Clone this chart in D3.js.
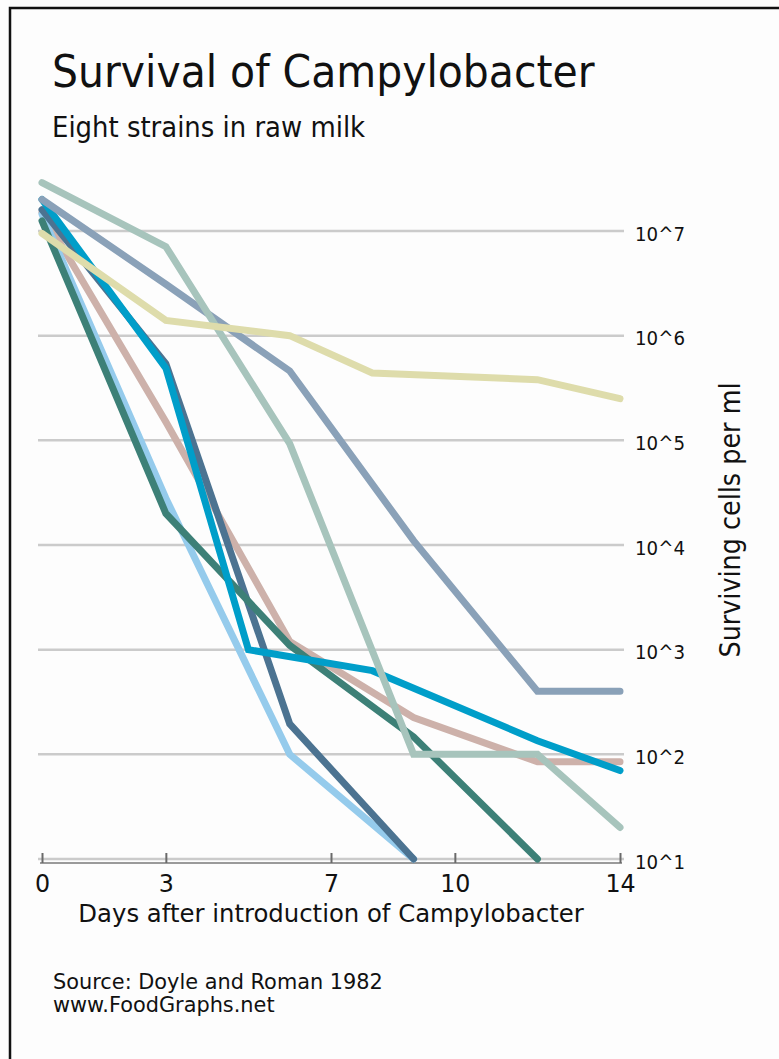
<!DOCTYPE html>
<html>
<head>
<meta charset="utf-8">
<script src="https://cdn.jsdelivr.net/npm/d3@7/dist/d3.min.js"></script>
<style>
    body { margin: 0; background: #fdfdfd; }
    svg { display: block; }
    text { font-family: "DejaVu Sans", Verdana, sans-serif; fill: #111; }
    .grid line { stroke: #cbcbcb; stroke-width: 2.5; }
    .strain { fill: none; stroke-width: 7; stroke-linecap: round; stroke-linejoin: miter; }
</style>
</head>
<body>
<div id="chart"></div>
<script>
// Surviving cells per ml, [day, cells]
var strainRose = [[0, 1.5e7], [3, 1.5e5], [6, 1200], [9, 225], [12, 85], [14, 85]];
var strainLightBlue = [[0, 1.45e7], [3, 2.8e4], [6, 100], [9, 10]];
var strainDarkSlate = [[0, 1.6e7], [3, 5.4e5], [6, 195], [9, 10]];
var strainTeal = [[0, 1.25e7], [3, 2.0e4], [6, 1100], [9, 147], [12, 10]];
var strainBlue = [[0, 2.0e7], [3, 4.9e5], [5, 1000], [8, 630], [12, 135], [14, 70]];
var strainSlate = [[0, 2.0e7], [3, 3.1e6], [6, 4.6e5], [9, 1.1e4], [12, 400], [14, 400]];
var strainSage = [[0, 2.9e7], [3, 7.1e6], [6, 9.3e4], [9, 100], [12, 100], [14, 20]];
var strainKhaki = [[0, 9.5e6], [3, 1.4e6], [6, 1.0e6], [8, 4.4e5], [12, 3.8e5], [14, 2.5e5]];

var dayTicks = [0, 3, 7, 10, 14];
var cellTicks = [10, 100, 1e3, 1e4, 1e5, 1e6, 1e7];
var cellTickLabels = ['10^1', '10^2', '10^3', '10^4', '10^5', '10^6', '10^7'];

var strains = [
    { data: strainRose, color: '#cdb1aa' },
    { data: strainLightBlue, color: '#95cbec' },
    { data: strainDarkSlate, color: '#4c7391' },
    { data: strainTeal, color: '#3d8077' },
    { data: strainBlue, color: '#009ec9' },
    { data: strainSlate, color: '#8aa1b8' },
    { data: strainSage, color: '#a7c4bc' },
    { data: strainKhaki, color: '#dedcab' }
];

var width = 779, height = 1059;

// squeeze text a little, the original face is narrower than DejaVu
function squeeze(sel, k) {
    k = k || 0.91;
    sel.each(function () {
        var w = this.getComputedTextLength();
        d3.select(this).attr('textLength', w * k).attr('lengthAdjust', 'spacingAndGlyphs');
    });
}

var svg = d3.select('#chart').append('svg')
    .attr('width', width)
    .attr('height', height);

// frame
svg.append('path')
    .attr('d', 'M10,' + (height + 5) + 'V8H' + (width + 5))
    .attr('fill', 'none')
    .attr('stroke', '#111')
    .attr('stroke-width', 2.5);

var x = d3.scaleLinear().domain([0, 14]).range([42, 620]);
var y = d3.scaleLog().domain([10, 1e7]).range([859, 231]);

// grid
svg.append('g')
    .attr('class', 'grid')
    .selectAll('line')
    .data(cellTicks)
    .enter()
    .append('line')
    .attr('x1', 38)
    .attr('x2', 624)
    .attr('y1', function (d) { return y(d); })
    .attr('y2', function (d) { return y(d); });

// x axis
var xAxis = svg.append('g')
    .attr('class', 'axis--x')
    .attr('transform', 'translate(0,' + 863 + ')')
    .call(d3.axisBottom(x)
        .tickValues(dayTicks)
        .tickFormat(d3.format('d'))
        .tickSizeInner(-10)
        .tickSizeOuter(0)
        .tickPadding(18)
    );
xAxis.select('.domain')
    .attr('stroke', '#9a9a9a')
    .attr('stroke-width', 2)
    .attr('d', 'M40,0H622');
xAxis.selectAll('.tick line')
    .attr('stroke', '#6a6a6a')
    .attr('stroke-width', 2);
xAxis.selectAll('.tick text')
    .attr('font-size', 25)
    .attr('font-family', '"DejaVu Sans", sans-serif')
    .attr('fill', '#111')
    .attr('dy', null)
    .attr('y', 29)
    .call(squeeze, 0.95);

// y labels on the right
svg.append('g')
    .attr('class', 'axis--y')
    .selectAll('text')
    .data(cellTicks)
    .enter()
    .append('text')
    .attr('x', 635)
    .attr('y', function (d) { return y(d) + 9.5; })
    .attr('font-size', 20)
    .text(function (d, i) { return cellTickLabels[i]; })
    .call(squeeze);

// strain lines
var line = d3.line()
    .x(function (d) { return x(d[0]); })
    .y(function (d) { return y(d[1]); });

svg.append('g')
    .selectAll('path')
    .data(strains)
    .enter()
    .append('path')
    .attr('class', 'strain')
    .attr('stroke', function (d) { return d.color; })
    .attr('d', function (d) { return line(d.data); });

// titles
svg.append('text')
    .attr('x', 52)
    .attr('y', 87)
    .attr('font-size', 45)
    .text('Survival of Campylobacter')
    .call(squeeze);

svg.append('text')
    .attr('x', 52)
    .attr('y', 137)
    .attr('font-size', 28.5)
    .text('Eight strains in raw milk')
    .call(squeeze);

svg.append('text')
    .attr('x', 331)
    .attr('y', 922)
    .attr('text-anchor', 'middle')
    .attr('font-size', 25.5)
    .text('Days after introduction of Campylobacter')
    .call(squeeze, 0.955);

svg.append('text')
    .attr('transform', 'translate(740,520) rotate(-90)')
    .attr('text-anchor', 'middle')
    .attr('font-size', 28)
    .text('Surviving cells per ml')
    .call(squeeze);

svg.append('text')
    .attr('x', 53)
    .attr('y', 989)
    .attr('font-size', 21.5)
    .text('Source: Doyle and Roman 1982')
    .call(squeeze, 0.97);

svg.append('text')
    .attr('x', 53)
    .attr('y', 1012)
    .attr('font-size', 21.5)
    .text('www.FoodGraphs.net')
    .call(squeeze, 0.97);
</script>
</body>
</html>
